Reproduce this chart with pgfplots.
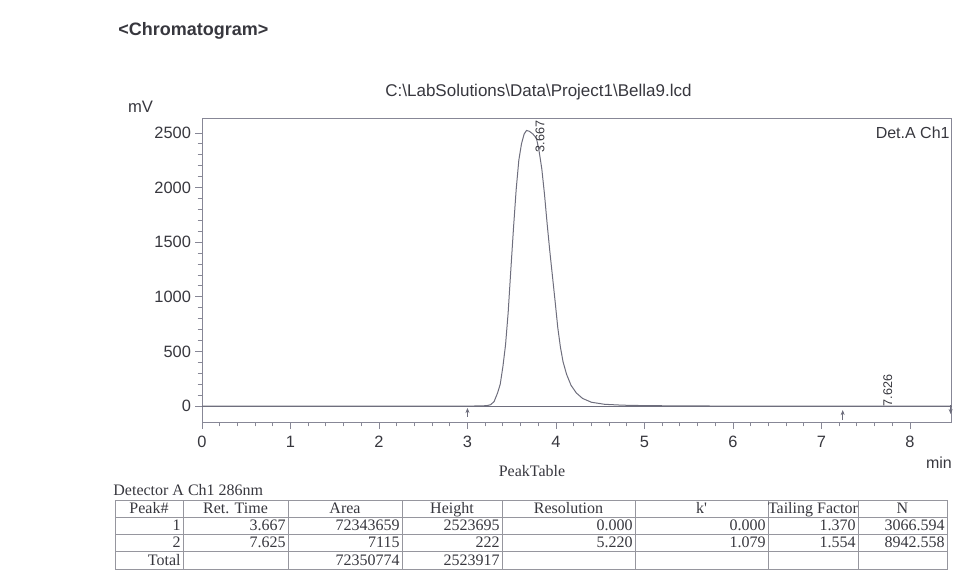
\documentclass[border=0pt]{standalone}
\usepackage{pgfplots}
\pgfplotsset{compat=1.18}
\usetikzlibrary{arrows.meta}
\usepackage{fontspec}
\setmainfont{Liberation Sans}
\newfontfamily\timesf{Liberation Serif}
\definecolor{txt}{RGB}{55,55,62}
\definecolor{ax}{RGB}{135,135,150}
\definecolor{tr}{RGB}{110,110,125}
\definecolor{tb}{RGB}{150,150,158}
\newcommand\tabfont{\timesf\fontsize{8}{9}\selectfont}

\pgfplotstableread{
x y
0.00 0
3.00 0
3.15 1
3.22 4
3.26 12
3.30 40
3.34 120
3.37 200
3.40 360
3.43 560
3.46 860
3.49 1250
3.52 1630
3.55 1980
3.58 2250
3.61 2400
3.64 2490
3.667 2523
3.70 2515
3.74 2490
3.78 2450
3.81 2330
3.84 2170
3.87 1940
3.90 1670
3.93 1420
3.96 1190
3.99 960
4.02 720
4.05 540
4.08 405
4.12 290
4.17 190
4.23 120
4.30 70
4.40 35
4.55 16
4.75 8
5.00 4
5.50 1
6.00 0
8.475 0
}\chrom

\pgfplotstableread{
x y u v
3.00 -100 0 82
7.24 -128 0 91
8.46 9 0 -82
}\arrowsdata

\begin{document}
\begin{tikzpicture}
\begin{scope}[x=0.5pt,y=-0.5pt]
\useasboundingbox (0,0) rectangle (960,579);
\end{scope}
\begin{axis}[
  at={(101pt,-211pt)}, anchor=south west,
  scale only axis, width=375pt, height=152pt,
  xmin=0, xmax=8.475, ymin=-146, ymax=2637,
  axis line style={ax, line width=0.5pt},
  xtick={0,1,...,8}, ytick={0,500,...,2500},
  minor x tick num=4, minor y tick num=4,
  tick align=outside, xtick pos=bottom, ytick pos=left,
  major tick length=3.5pt, minor tick length=2.2pt,
  every tick/.style={ax, line width=0.4pt},
  ticklabel style={font=\fontsize{8.2}{9}\selectfont, text=txt},
  yticklabel style={xshift=1.5pt},
  /pgf/number format/assume math mode=true,
  /pgf/number format/1000 sep={},
  clip=false,
]
\addplot[tr, line width=0.5pt] table[x=x,y=y] {\chrom};
\addplot[tr, line width=0.4pt] coordinates {(0,0) (8.475,0)};
\addplot[tr, line width=0.3pt, -{Stealth[length=2.5pt,width=2pt]},
  quiver={u=\thisrow{u}, v=\thisrow{v}}] table[x=x,y=y] {\arrowsdata};
\node[rotate=90, font=\fontsize{6.3}{7}\selectfont, text=txt, inner sep=0] at (axis cs:3.82,2468) {3.667};
\node[rotate=90, font=\fontsize{6.3}{7}\selectfont, text=txt, inner sep=0] at (axis cs:7.75,142) {7.626};
\end{axis}
\begin{scope}[x=0.5pt,y=-0.5pt, every node/.style={inner sep=0, text=txt}]
\node[anchor=west, font=\bfseries\fontsize{9}{10}\selectfont] at (118,31) {<Chromatogram>};
\node[font=\fontsize{8.5}{10}\selectfont] at (538.5,92) {C:\textbackslash LabSolutions\textbackslash Data\textbackslash Project1\textbackslash Bella9.lcd};
\node[font=\fontsize{8.3}{10}\selectfont] at (140.5,107) {mV};
\node[anchor=east, font=\fontsize{8}{10}\selectfont] at (950,133) {Det.A Ch1};
\node[font=\fontsize{8}{10}\selectfont] at (939,463) {min};
\node[font=\tabfont] at (532,471) {PeakTable};
\node[anchor=west, font=\tabfont] at (113,490) {Detector A Ch1 286nm};
% table grid
\draw[tb, line width=0.5pt] (115,500.5) rectangle (947,569.5);
\foreach \yy in {517,534,551.5} \draw[tb, line width=0.5pt] (115,\yy) -- (947,\yy);
\foreach \xx in {183,288,402,502,635,768,858} \draw[tb, line width=0.5pt] (\xx,500.5) -- (\xx,569.5);
% headers
\foreach \cx/\t in {149/{Peak\#},235.5/{Ret. Time},345/Area,452/Height,568.5/Resolution,701.5/k',813/{Tailing Factor},902.5/N}
  \node[anchor=base, font=\tabfont] at (\cx,513) {\t};
% rows
\foreach \rx/\t in {183/1,288/3.667,402/72343659,502/2523695,635/0.000,768/0.000,858/1.370,947/3066.594}
  \node[anchor=base east, font=\tabfont] at (\rx-2,530) {\t};
\foreach \rx/\t in {183/2,288/7.625,402/7115,502/222,635/5.220,768/1.079,858/1.554,947/8942.558}
  \node[anchor=base east, font=\tabfont] at (\rx-2,547.5) {\t};
\foreach \rx/\t in {183/Total,402/72350774,502/2523917}
  \node[anchor=base east, font=\tabfont] at (\rx-2,565) {\t};
\end{scope}
\end{tikzpicture}
\end{document}
